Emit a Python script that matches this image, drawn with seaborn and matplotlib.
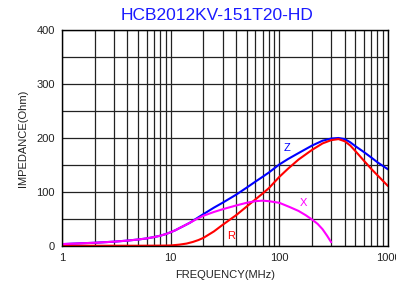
import matplotlib
matplotlib.use("Agg")
import matplotlib.pyplot as plt
import seaborn as sns
import pandas as pd
from matplotlib.ticker import LogLocator, MultipleLocator, NullFormatter, FixedLocator, FixedFormatter

sns.set_style("white")
plt.rcParams['font.family'] = ['Liberation Sans', 'DejaVu Sans']

title = "HCB2012KV-151T20-HD"
freq_z = [1, 1.5, 2, 3, 4, 5, 6, 7, 8, 9, 10, 11, 12, 13, 15, 17, 20, 25, 30, 40, 50, 60, 70, 80,
          100, 120, 150, 200, 250, 300, 350, 400, 450, 500, 600, 700, 800, 1000]
z_vals = [3.5, 5, 6, 8, 10, 12, 14, 16.5, 19, 22, 25.5, 29, 33, 36.5, 43, 50, 59, 71, 80, 95, 108, 119, 128, 136,
          151, 161, 172, 186, 195, 199, 200, 198, 192, 185, 174, 164, 155, 142]
freq_r = [1, 3, 5, 8, 10, 12, 14, 16, 18, 20, 25, 30, 40, 50, 60, 70, 80,
          100, 120, 150, 200, 250, 300, 350, 400, 450, 500, 600, 700, 800, 1000]
r_vals = [0.5, 0.5, 0.5, 0.7, 1, 2.5, 4.5, 7.5, 11, 15, 27, 39, 57, 73, 86, 97, 107,
          128, 143, 160, 178, 190, 196, 198, 194, 186, 176, 158, 143, 131, 111]
freq_x = [1, 1.5, 2, 3, 4, 5, 6, 7, 8, 9, 10, 11, 12, 13, 15, 17, 20, 25, 30, 40, 50, 60, 70, 80,
          100, 125, 150, 175, 200, 225, 250, 275, 300]
x_vals = [3.5, 5, 6, 8, 10, 12, 14, 16.5, 19, 22, 25.5, 29, 33, 36.5, 43, 49, 56, 63, 68, 75, 80, 83, 84, 83,
          80, 72, 65, 57, 49, 41, 31, 19, 7]
x_ticks = [1, 10, 100, 1000]
x_ticklabels = ["1", "10", "100", "1000"]
y_ticks = [0, 100, 200, 300, 400]

dz = pd.DataFrame({"f": freq_z, "v": z_vals})
dr = pd.DataFrame({"f": freq_r, "v": r_vals})
dx = pd.DataFrame({"f": freq_x, "v": x_vals})

fig = plt.figure(figsize=(3.96, 2.95), dpi=100)
ax = fig.add_axes([62/396, 1-246/295, (388-62)/396, (246-30)/295])

sns.lineplot(data=dz, x="f", y="v", ax=ax, color="#0000ff", lw=1.5)
sns.lineplot(data=dr, x="f", y="v", ax=ax, color="#ff0000", lw=1.5)
sns.lineplot(data=dx, x="f", y="v", ax=ax, color="#ff00ff", lw=1.5)

ax.set_xscale("log")
ax.set_xlim(1, 1000)
ax.set_ylim(0, 400)
ax.xaxis.set_major_locator(FixedLocator(x_ticks))
ax.xaxis.set_major_formatter(FixedFormatter(x_ticklabels))
ax.xaxis.set_minor_locator(LogLocator(base=10, subs=range(2, 10)))
ax.xaxis.set_minor_formatter(NullFormatter())
ax.yaxis.set_major_locator(FixedLocator(y_ticks))
ax.yaxis.set_minor_locator(MultipleLocator(50))
ax.grid(which="both", color="#222222", lw=0.9)
ax.set_axisbelow(True)
ax.tick_params(which="both", length=0, labelsize=8, colors="#222222", pad=5)
for s in ax.spines.values():
    s.set_color("black")
    s.set_linewidth(1)

ax.set_xlabel("FREQUENCY(MHz)", fontsize=8, color="#222222", labelpad=5)
ax.set_ylabel("IMPEDANCE(Ohm)", fontsize=8, color="#222222", labelpad=6)
fig.text(217/396, 1-16/295, title, color="#1a1aff", fontsize=12.5, ha="center", va="center")

ax.text(117, 181, "Z", color="#0000ff", fontsize=8, ha="center", va="center")
ax.text(165, 80, "X", color="#ff00ff", fontsize=8, ha="center", va="center")
ax.text(36, 18.5, "R", color="#ff0000", fontsize=8, ha="center", va="center")

fig.savefig("out.png", dpi=100)
